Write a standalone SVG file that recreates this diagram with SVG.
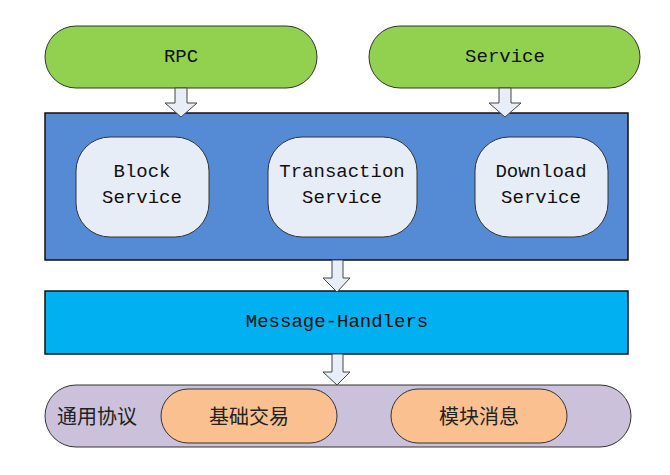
<svg xmlns="http://www.w3.org/2000/svg" width="670" height="475" viewBox="0 0 670 475">
<style>
.lbl{font-family:"Liberation Mono","DejaVu Sans Mono",monospace;font-size:19px;fill:#111;text-anchor:middle;dominant-baseline:central}
.cjk{font-family:"Noto Sans CJK SC",sans-serif;font-size:20px;fill:#222;dominant-baseline:central}
.pill{stroke:#333;stroke-width:1}
.arrow{fill:#E8EEF7;stroke:#444;stroke-width:1}
</style>
<rect width="670" height="475" fill="#fff"/>
<g id="rpc">
<rect class="pill" x="45" y="26" width="272" height="62" rx="31" fill="#92D050"/>
<text class="lbl" x="181" y="57">RPC</text>
</g>
<g id="service">
<rect class="pill" x="369" y="26" width="271" height="62" rx="31" fill="#92D050"/>
<text class="lbl" x="505" y="57">Service</text>
</g>
<g id="services-layer">
<rect x="45" y="113" width="583" height="147" fill="#558AD5" stroke="#111" stroke-width="1.5"/>
</g>
<g id="block-service">
<rect class="pill" x="76" y="137" width="133" height="100" rx="34" fill="#E7EDF7"/>
<text class="lbl" x="142" y="172">Block</text>
<text class="lbl" x="142" y="198">Service</text>
</g>
<g id="transaction-service">
<rect class="pill" x="268" y="137" width="149" height="100" rx="34" fill="#E7EDF7"/>
<text class="lbl" x="342" y="172">Transaction</text>
<text class="lbl" x="342" y="198">Service</text>
</g>
<g id="download-service">
<rect class="pill" x="475" y="137" width="133" height="100" rx="34" fill="#E7EDF7"/>
<text class="lbl" x="541" y="172">Download</text>
<text class="lbl" x="541" y="198">Service</text>
</g>
<g id="message-handlers">
<rect x="45" y="291" width="583" height="63" fill="#00B0F0" stroke="#111" stroke-width="1.5"/>
<text class="lbl" x="337" y="322">Message-Handlers</text>
</g>
<g id="protocol">
<rect class="pill" x="45" y="385" width="586" height="62" rx="31" fill="#CCC1DA"/>
<text class="cjk" x="57" y="415">通用协议</text>
</g>
<g id="basic-tx">
<rect class="pill" x="161" y="389" width="176" height="54" rx="27" fill="#FAC090"/>
<text class="cjk" x="249" y="415" text-anchor="middle">基础交易</text>
</g>
<g id="module-msg">
<rect class="pill" x="391" y="389" width="176" height="54" rx="27" fill="#FAC090"/>
<text class="cjk" x="479" y="415" text-anchor="middle">模块消息</text>
</g>
<g id="connectors">
<path class="arrow" d="M175,88 H187 V103 H197 L181,117 L165,103 H175 Z"/>
<path class="arrow" d="M499,88 H511 V103 H521 L505,117 L489,103 H499 Z"/>
<path class="arrow" d="M332,260 H343 V278 H350 L337,292 L323,278 H332 Z"/>
<path class="arrow" d="M332,354 H343 V372 H350 L337,385 L323,372 H332 Z"/>
</g>
</svg>
